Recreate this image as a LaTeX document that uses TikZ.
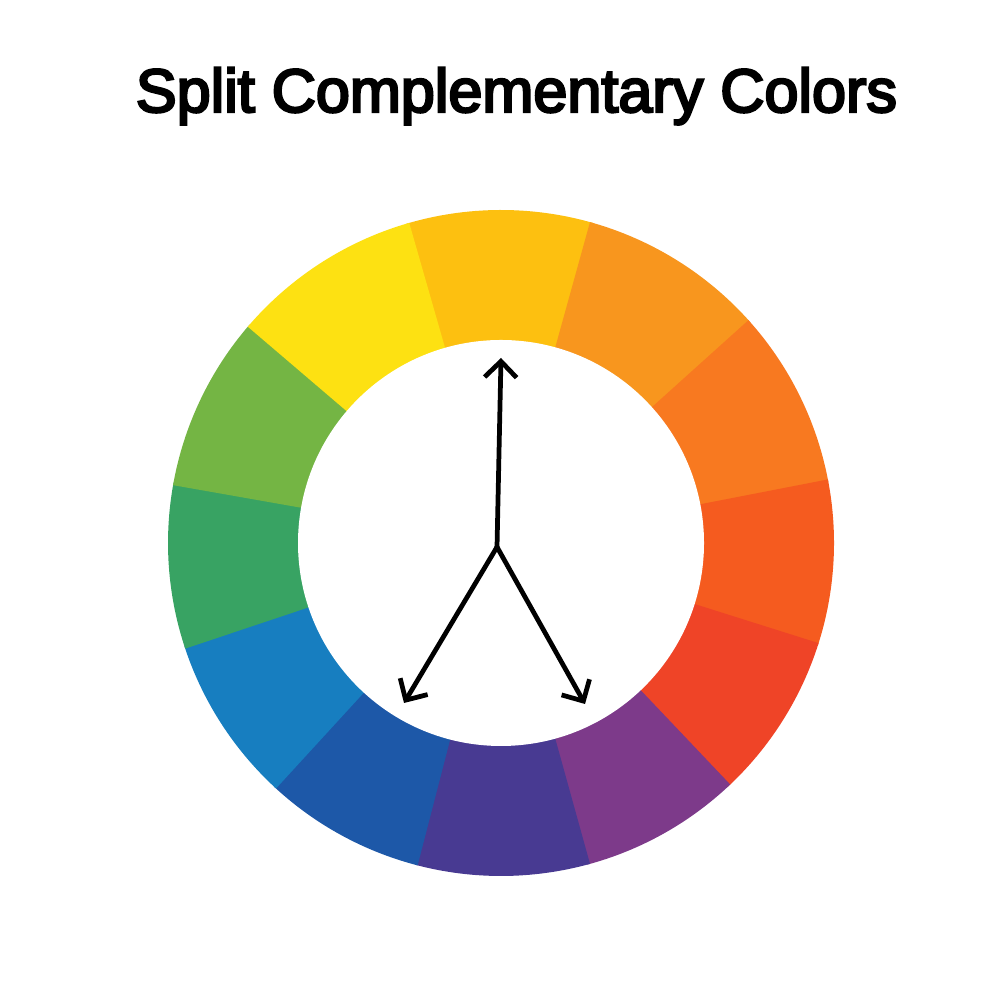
\documentclass[tikz,border=0pt]{standalone}
\usepackage{fontspec}
\setmainfont{Liberation Sans}
\newfontfamily\headfont[FakeBold=4]{Liberation Sans}
\usepackage{xcolor}
\usepackage{tikz}
\usetikzlibrary{arrows.meta,positioning}

\definecolor{cwGold}{HTML}{FDC010}
\definecolor{cwOrange}{HTML}{F8961E}
\definecolor{cwDeepOrange}{HTML}{F87920}
\definecolor{cwRedOrange}{HTML}{F55B1F}
\definecolor{cwRed}{HTML}{EF4427}
\definecolor{cwPurple}{HTML}{7D3A8A}
\definecolor{cwIndigo}{HTML}{483A92}
\definecolor{cwBlue}{HTML}{1D58A8}
\definecolor{cwSky}{HTML}{177EC0}
\definecolor{cwGreen}{HTML}{38A363}
\definecolor{cwLime}{HTML}{74B544}
\definecolor{cwYellow}{HTML}{FDE112}

\begin{document}
\begin{tikzpicture}[title/.style={inner sep=0pt, anchor=base, font=\headfont\fontsize{17.4}{20}\selectfont},
		wheel arrow/.style={-{Straight Barb[length=1.6mm, width=3.2mm, line width=1.35pt]}, line width=1.35pt, line cap=round, line join=round, black}]
		\useasboundingbox (0,0) rectangle (10,10);
		\fill[white] (0,0) rectangle (10,10);
		\node[title] (heading) at (5.165,8.88) {Split Complementary Colors};
		% colour wheel
		\begin{scope}[shift={(5.01,4.57)}]
			\foreach \a/\b/\c in {74/106.5/cwGold, 41.5/74.5/cwOrange, 10.5/42/cwDeepOrange, -18/11/cwRedOrange, -47/-17.5/cwRed, -75/-46.5/cwPurple, -105/-74.5/cwIndigo, -133/-104.5/cwBlue, -162/-132.5/cwSky, -190.5/-161.5/cwGreen, -221/-190/cwLime, -254/-220.5/cwYellow}
				\fill[\c] (0,0) -- (\a:3.33) arc[start angle=\a, end angle=\b, radius=3.33] -- cycle;
			\fill[white] (0,0) circle[radius=2.03];
		\end{scope}
		\coordinate (hub) at (4.97,4.53);
		\coordinate (tipA) at (5.01,6.42);
		\coordinate (tipB) at (4.04,2.97);
		\coordinate (tipC) at (5.85,2.96);
		\draw[wheel arrow] (hub) -- (tipA);
		\draw[wheel arrow] (hub) -- (tipB);
		\draw[wheel arrow] (hub) -- (tipC);
	\end{tikzpicture}
\end{document}
